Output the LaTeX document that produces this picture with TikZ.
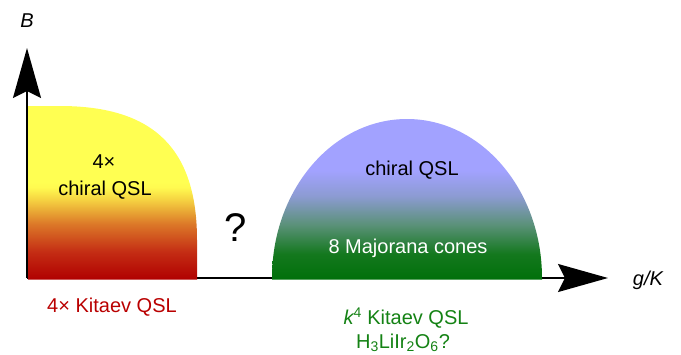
\documentclass[tikz,border=0pt]{standalone}
\usepackage{fontspec}
\setmainfont{Liberation Sans}
\usetikzlibrary{arrows.meta}
\definecolor{txtred}{RGB}{185,0,0}
\definecolor{txtgreen}{RGB}{20,130,20}
\pgfdeclareverticalshading{leftshade}{100bp}{%
  color(0bp)=(rgb,255:red,176;green,0;blue,0);
  color(25bp)=(rgb,255:red,176;green,0;blue,0);
  color(33bp)=(rgb,255:red,196;green,45;blue,20);
  color(41bp)=(rgb,255:red,220;green,120;blue,40);
  color(48bp)=(rgb,255:red,245;green,210;blue,65);
  color(51.5bp)=(rgb,255:red,255;green,250;blue,80);
  color(53bp)=(rgb,255:red,255;green,255;blue,82);
  color(100bp)=(rgb,255:red,255;green,255;blue,82)}
\pgfdeclareverticalshading{rightshade}{100bp}{%
  color(0bp)=(rgb,255:red,0;green,112;blue,10);
  color(25bp)=(rgb,255:red,0;green,112;blue,10);
  color(33bp)=(rgb,255:red,20;green,120;blue,30);
  color(42bp)=(rgb,255:red,90;green,145;blue,120);
  color(51bp)=(rgb,255:red,140;green,155;blue,210);
  color(59bp)=(rgb,255:red,162;green,162;blue,255);
  color(100bp)=(rgb,255:red,162;green,162;blue,255)}
\tikzset{
  axis/.style={line width=1.8pt, -{Stealth[length=50pt,width=28pt,inset=7pt]}},
  lbl/.style={inner sep=0pt, font=\fontsize{20pt}{24pt}\selectfont},
}
\begin{document}
\begin{tikzpicture}[x=1pt,y=-1pt]
\useasboundingbox (0,0) rectangle (681,354);
\coordinate (O) at (27,278);
\coordinate (xend) at (608,278);
\coordinate (yend) at (27,48);
\draw[axis] (O) -- (xend);
% left region
\shade[shading=leftshade] (28,279.5) -- (28,106) -- (60,106) .. controls (155,106) and (197,150) .. (197,240) -- (197,279.5) -- cycle;
% right region
\shade[shading=rightshade] (272,279.5) -- (272,278) arc[start angle=180,end angle=0,x radius=135pt,y radius=159pt] -- (542,279.5) -- cycle;
\draw[axis] (O) -- (yend);
\node[lbl, font=\fontsize{20pt}{24pt}\selectfont\itshape] (B) at (27,21) {B};
\node[lbl, font=\fontsize{20pt}{24pt}\selectfont\itshape] (gK) at (648,280) {g/K};
\node[lbl] (l1) at (104,162) {4×};
\node[lbl] (l2) at (105,190) {chiral QSL};
\node[lbl, font=\fontsize{40pt}{44pt}\selectfont] (q) at (236,228) {?};
\node[lbl] (r1) at (412,170) {chiral QSL};
\node[lbl, text=white] (r2) at (408,248) {8 Majorana cones};
\node[lbl, text=txtred] (b1) at (112,307) {4× Kitaev QSL};
\node[lbl, text=txtgreen] (b2) at (406,318) {{\itshape k}\textsuperscript{4} Kitaev QSL};
\node[lbl, text=txtgreen] (b3) at (403,343) {H\textsubscript{3}LiIr\textsubscript{2}O\textsubscript{6}?};
\end{tikzpicture}
\end{document}
